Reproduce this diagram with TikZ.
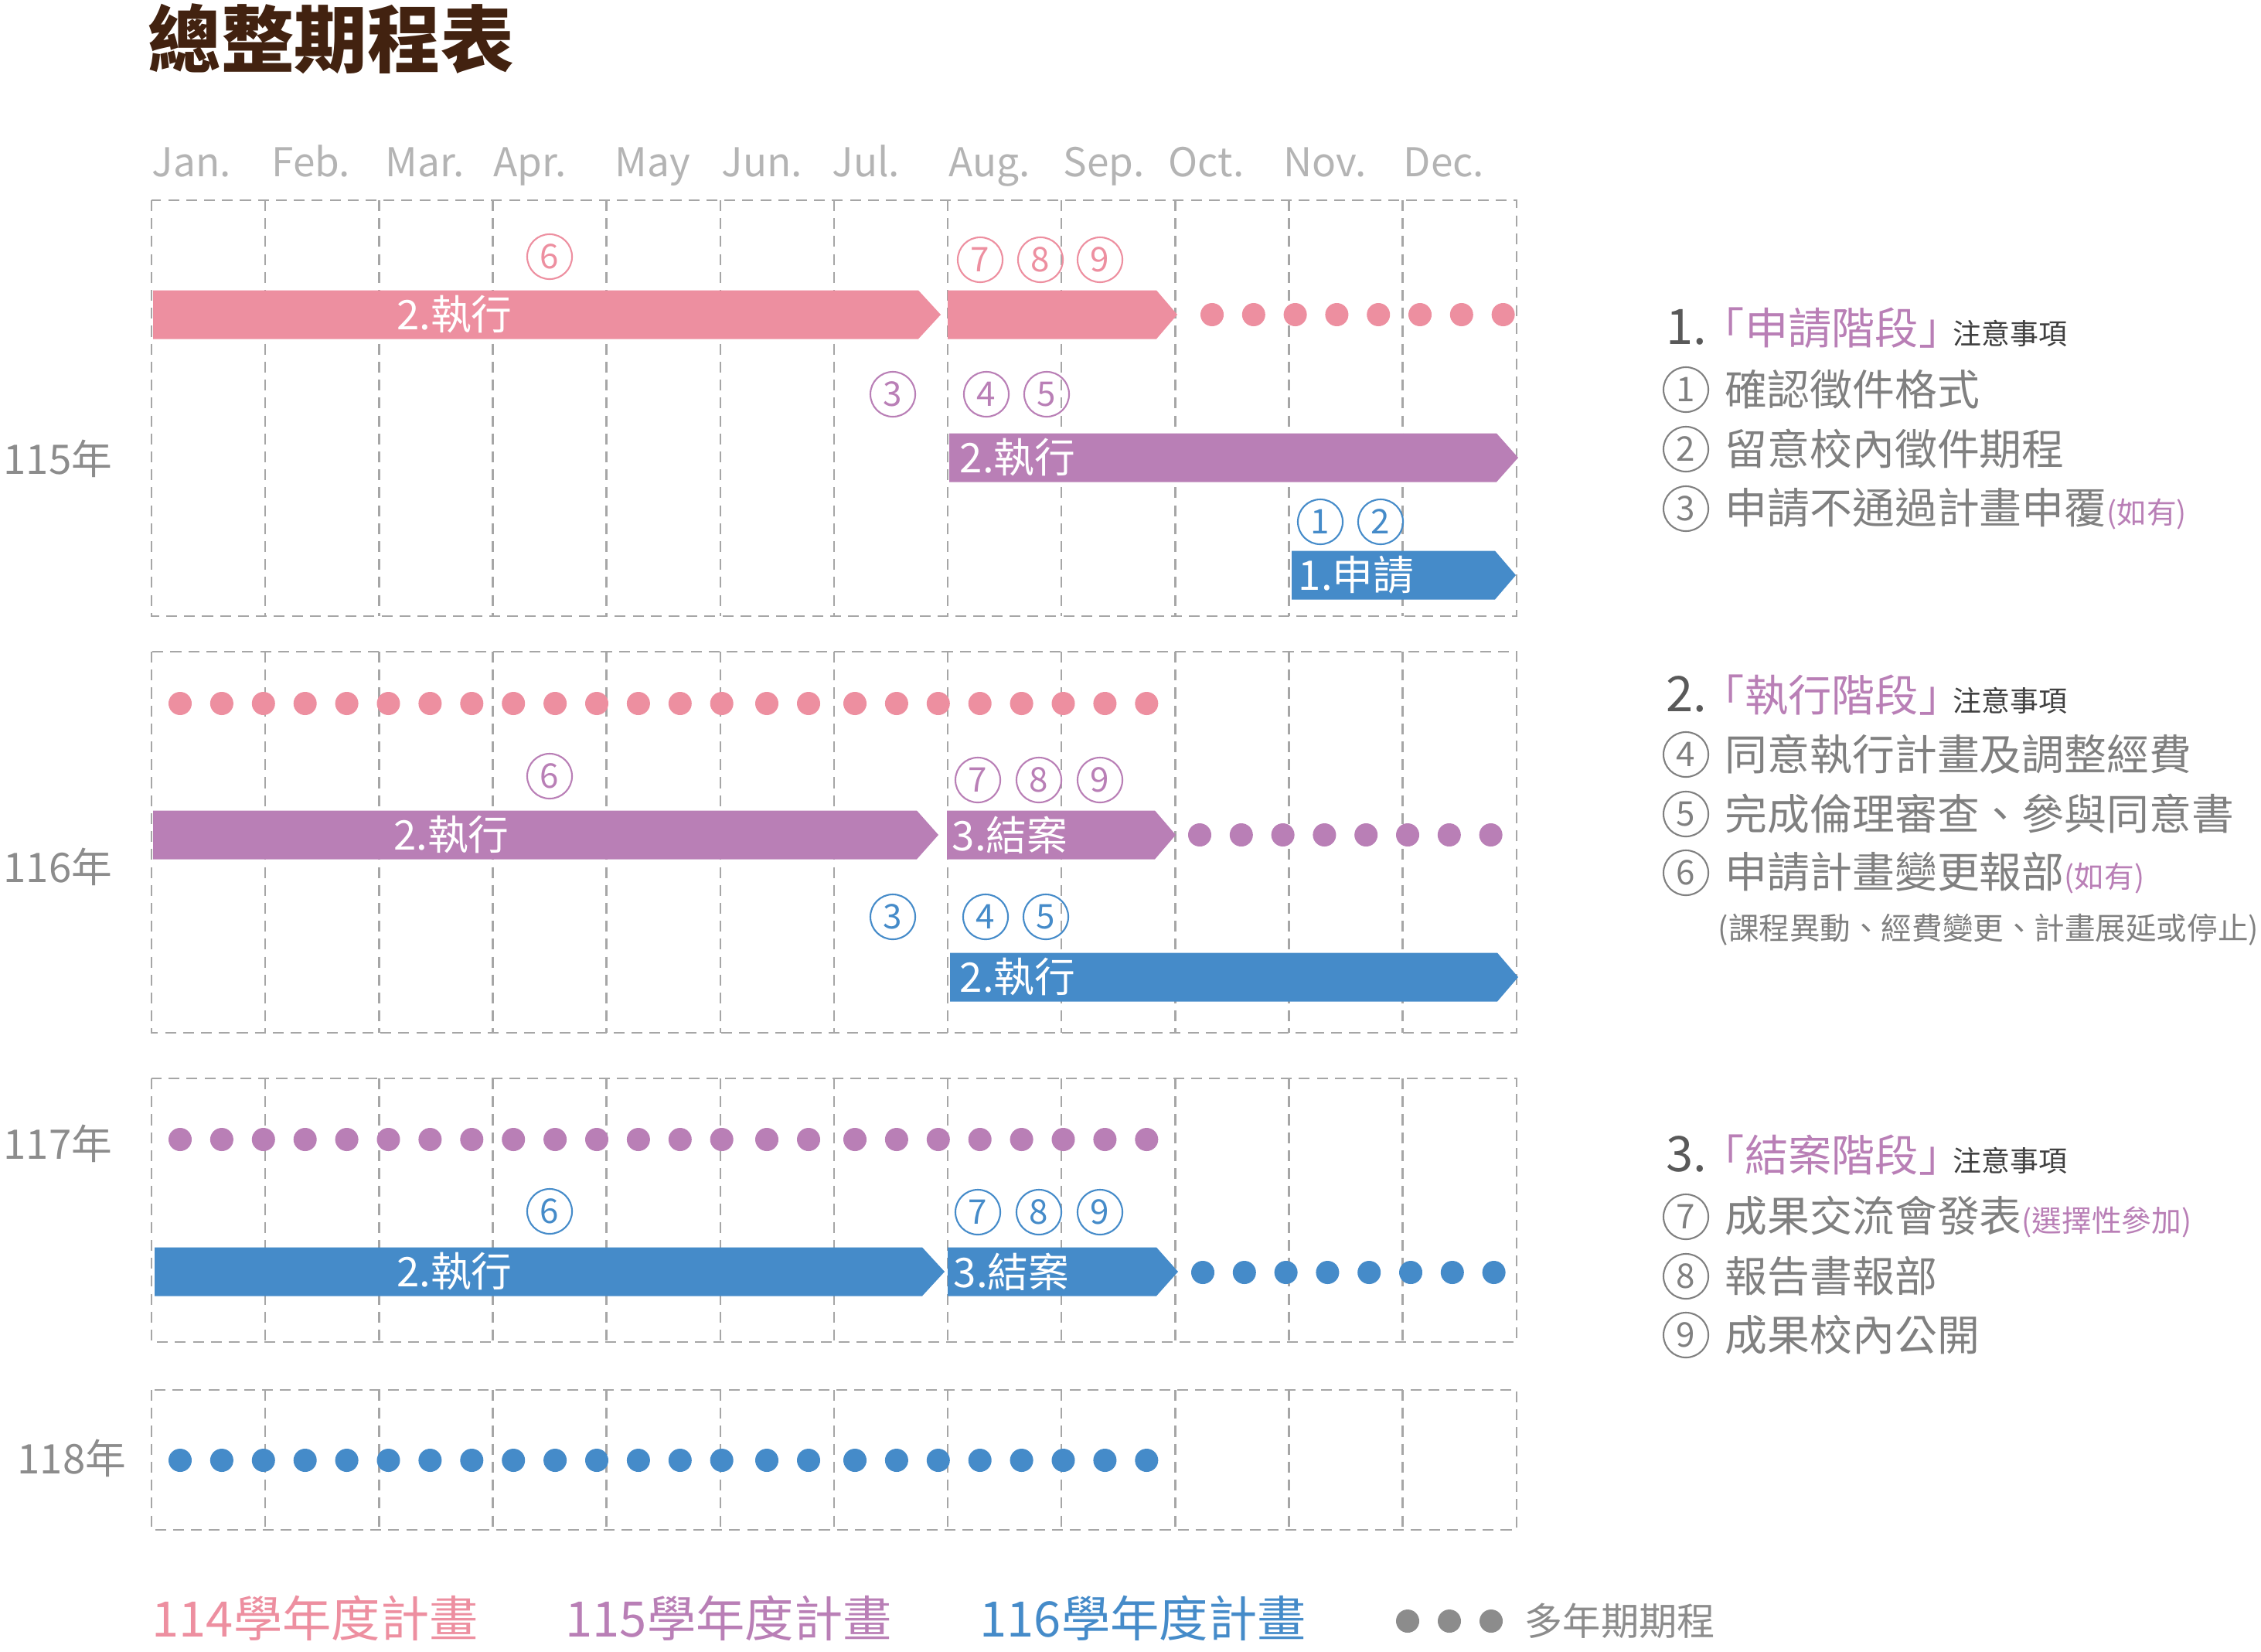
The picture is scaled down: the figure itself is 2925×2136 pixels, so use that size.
\documentclass[tikz,border=0pt]{standalone}
\usepackage{fontspec}
\setmainfont{Noto Sans CJK TC}
\definecolor{pinkc}{RGB}{237,143,160}
\definecolor{purplec}{RGB}{185,127,182}
\definecolor{bluec}{RGB}{69,139,201}
\definecolor{gridc}{RGB}{166,166,166}
\definecolor{yearc}{RGB}{140,140,140}
\definecolor{monthc}{RGB}{180,180,180}
\definecolor{textg}{RGB}{128,128,128}
\definecolor{headn}{RGB}{89,89,89}
\definecolor{notec}{RGB}{64,64,64}
\definecolor{titlec}{RGB}{66,34,16}
\tikzset{
  gridline/.style={draw=gridc, line width=0.7pt, dash pattern=on 4pt off 2.6pt},
  cnumsty/.style={circle, line width=0.6pt, minimum size=0.58cm, inner sep=0pt, font=\fontsize{12.5}{12.5}\selectfont},
  barlabel/.style={text=white, inner sep=0pt, font=\fontsize{15}{15}\selectfont},
  monthsty/.style={text=monthc, inner sep=0pt, anchor=base west, font=\fontsize{14.6}{14.6}\selectfont},
  yearsty/.style={text=yearc, inner sep=0pt, anchor=west, font=\fontsize{15}{15}\selectfont},
  itemsty/.style={text=textg, inner sep=0pt, anchor=west, font=\fontsize{15.6}{15.6}\selectfont},
  legsty/.style={inner sep=0pt, anchor=west, font=\fontsize{18}{18}\selectfont},
}
\newcommand\gridblock[2]{%
  \draw[gridline] (196,#1) rectangle (1962,#2);
  \foreach \k in {1,...,11} {\draw[gridline] ({196+147.15*\k},#1) -- ({196+147.15*\k},#2);}
}
\newcommand\chev[5]{%
  \fill[#1] (#2,{#5-31.5}) -- (#3,{#5-31.5}) -- (#4,#5) -- (#3,{#5+31.5}) -- (#2,{#5+31.5}) -- cycle;}
\newcommand\cnum[5]{%
  \node[cnumsty, draw=#1, text=#1] (#5) at (#2,#3) {#4};}
\newcommand\longdots[2]{%
  \foreach \i in {0,...,13} {\fill[#1] ({233+53.9*\i},#2) circle[radius=0.15cm];}
  \foreach \xx in {992,1046} {\fill[#1] (\xx,#2) circle[radius=0.15cm];}
  \foreach \i in {0,...,7} {\fill[#1] ({1106+53.9*\i},#2) circle[radius=0.15cm];}
}
\newcommand\shortdots[3]{%
  \foreach \i in {0,...,7} {\fill[#1] ({#3+53.8*\i},#2) circle[radius=0.15cm];}
}
\newcommand\phaseheading[3]{%
  \node[inner sep=0pt, anchor=base west, text=headn, font=\fontsize{18}{18}\selectfont] (h#1) at (2155,#2) {#1.};
  \node[inner sep=0pt, anchor=base west, text=purplec, font=\fontsize{16}{16}\selectfont] (hh#1) at (2200,#2) {「#3」};
  \node[inner sep=0pt, anchor=base west, text=notec, font=\fontsize{10.5}{10.5}\selectfont] (hn#1) at (2526,#2) {注意事項};
}
\newcommand\noteitem[4]{%
  \node[cnumsty, draw=textg, text=textg] (i#1) at (2181,#2) {#1};
  \node[itemsty] (t#1) at (2231,#2) {#3{\color{purplec}\fontsize{11}{11}\selectfont #4}};
}
\begin{document}
\begin{tikzpicture}[x=0.01cm,y=-0.01cm]
\useasboundingbox (0,0) rectangle (2925,2136);

% title
\node[anchor=west, inner sep=0pt, text=titlec, font=\fontsize{26.9}{26.9}\selectfont\bfseries] (title) at (191,50) {總整期程表};

% months
\node[monthsty] (m1) at (196,228) {Jan.};
\node[monthsty] (m2) at (351,228) {Feb.};
\node[monthsty] (m3) at (498,228) {Mar.};
\node[monthsty] (m4) at (638,228) {Apr.};
\node[monthsty] (m5) at (795,228) {May};
\node[monthsty] (m6) at (933,228) {Jun.};
\node[monthsty] (m7) at (1076,228) {Jul.};
\node[monthsty] (m8) at (1227,228) {Aug.};
\node[monthsty] (m9) at (1375,228) {Sep.};
\node[monthsty] (m10) at (1511,228) {Oct.};
\node[monthsty] (m11) at (1660,228) {Nov.};
\node[monthsty] (m12) at (1815,228) {Dec.};

% years
\node[yearsty] (y115) at (4,593) {115年};
\node[yearsty] (y116) at (4,1121) {116年};
\node[yearsty] (y117) at (4,1479) {117年};
\node[yearsty] (y118) at (22,1886) {118年};

% grids
\gridblock{259}{797}
\gridblock{843}{1336}
\gridblock{1395}{1736}
\gridblock{1798}{1979}

% ---- block 1 ----
\chev{pinkc}{198}{1188}{1217}{407}
\node[barlabel] (b1a) at (588,407) {2.執行};
\chev{pinkc}{1226}{1496}{1523}{407}
\shortdots{pinkc}{407}{1568}
\cnum{pinkc}{711}{332}{6}{a6}
\cnum{pinkc}{1268}{336}{7}{a7}
\cnum{pinkc}{1346}{336}{8}{a8}
\cnum{pinkc}{1423}{336}{9}{a9}
\cnum{purplec}{1155}{510}{3}{b3}
\cnum{purplec}{1276}{510}{4}{b4}
\cnum{purplec}{1354}{510}{5}{b5}
\chev{purplec}{1228}{1936}{1964}{592}
\node[barlabel, anchor=west] (b1b) at (1241,592) {2.執行};
\cnum{bluec}{1708}{675}{1}{c1}
\cnum{bluec}{1786}{675}{2}{c2}
\chev{bluec}{1671}{1934}{1961}{744}
\node[barlabel, anchor=west] (b1c) at (1679,744) {1.申請};

% ---- block 2 ----
\longdots{pinkc}{910}
\cnum{purplec}{711}{1004}{6}{d6}
\cnum{purplec}{1265}{1009}{7}{d7}
\cnum{purplec}{1344}{1009}{8}{d8}
\cnum{purplec}{1423}{1009}{9}{d9}
\chev{purplec}{198}{1186}{1214}{1080}
\node[barlabel] (b2a) at (584,1080) {2.執行};
\chev{purplec}{1225}{1494}{1521}{1080}
\node[barlabel, anchor=west] (b2b) at (1231,1080) {3.結案};
\shortdots{purplec}{1080}{1552}
\cnum{bluec}{1155}{1186}{3}{e3}
\cnum{bluec}{1275}{1186}{4}{e4}
\cnum{bluec}{1353}{1186}{5}{e5}
\chev{bluec}{1229}{1937}{1964}{1264}
\node[barlabel, anchor=west] (b2c) at (1241,1264) {2.執行};

% ---- block 3 ----
\longdots{purplec}{1474}
\cnum{bluec}{711}{1567}{6}{f6}
\cnum{bluec}{1265}{1568}{7}{f7}
\cnum{bluec}{1344}{1568}{8}{f8}
\cnum{bluec}{1423}{1568}{9}{f9}
\chev{bluec}{200}{1193}{1222}{1645}
\node[barlabel] (b3a) at (588,1645) {2.執行};
\chev{bluec}{1226}{1496}{1524}{1645}
\node[barlabel, anchor=west] (b3b) at (1233,1645) {3.結案};
\shortdots{bluec}{1646}{1556}

% ---- block 4 ----
\longdots{bluec}{1889}

% ---- legend ----
\node[legsty, text=pinkc] (l1) at (196,2093) {114學年度計畫};
\node[legsty, text=purplec] (l2) at (731,2093) {115學年度計畫};
\node[legsty, text=bluec] (l3) at (1267,2093) {116學年度計畫};
\foreach \xx in {1821,1875,1929} {\fill[yearc] (\xx,2097) circle[radius=0.15cm];}
\node[inner sep=0pt, anchor=west, text=yearc, font=\fontsize{14}{14}\selectfont] (l4) at (1972,2097) {多年期期程};

% ---- right panel ----
\phaseheading{1}{445}{申請階段}
\noteitem{1}{504}{確認徵件格式}{}
\noteitem{2}{581}{留意校內徵件期程}{}
\noteitem{3}{658}{申請不通過計畫申覆}{(如有)}

\phaseheading{2}{920}{執行階段}
\noteitem{4}{976}{同意執行計畫及調整經費}{}
\noteitem{5}{1053}{完成倫理審查、參與同意書}{}
\noteitem{6}{1129}{申請計畫變更報部}{(如有)}
\node[inner sep=0pt, anchor=west, text=textg, font=\fontsize{11.25}{11.25}\selectfont] (sub) at (2222,1203) {(課程異動、經費變更、計畫展延或停止)};

\phaseheading{3}{1515}{結案階段}
\noteitem{7}{1574}{成果交流會發表}{(選擇性參加)}
\noteitem{8}{1651}{報告書報部}{}
\noteitem{9}{1727}{成果校內公開}{}
\end{tikzpicture}
\end{document}
